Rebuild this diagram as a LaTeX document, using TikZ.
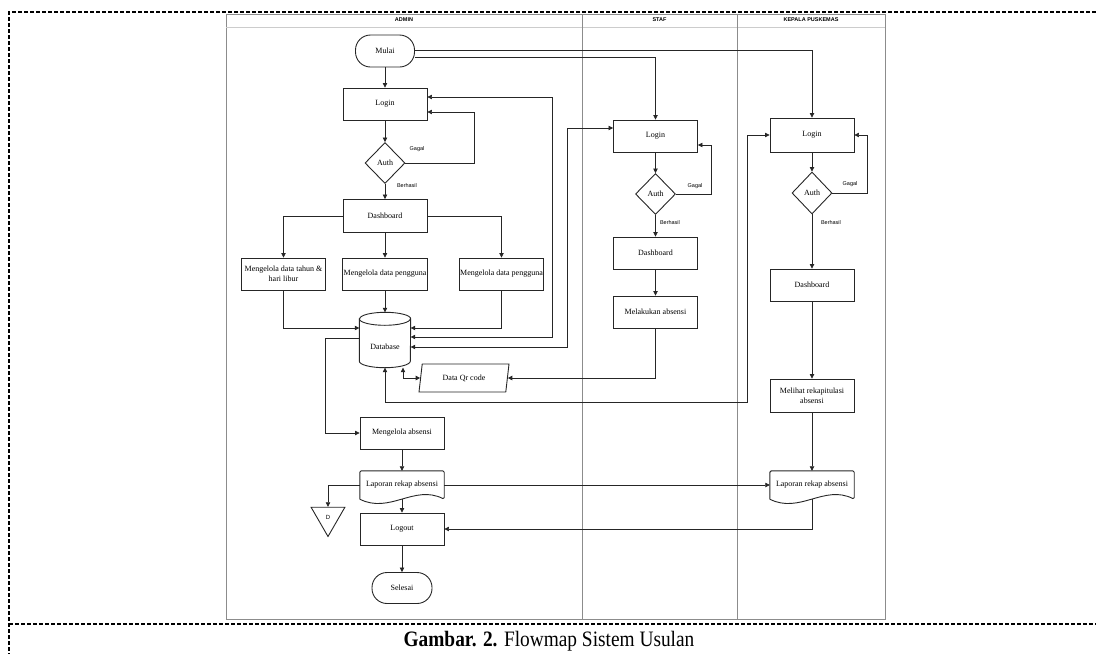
\documentclass[tikz,border=0pt]{standalone}
\usepackage{fontspec}
\setmainfont{Liberation Serif}
\setsansfont{Liberation Sans}
\usetikzlibrary{arrows.meta,shapes.geometric}

% document symbol with a wavy bottom, drawn round a named node
\newcommand{\docwave}[1]{%
  \draw[box, rounded corners=1.5pt] (#1.south west) -- (#1.north west) -- (#1.north east) -- (#1.south east)
    .. controls +(-30,-15) and +(30,15) .. (#1.south west);}
% database cylinder, drawn round a named node
\newcommand{\dbdrum}[1]{%
  \draw[box] ([yshift=-6.5pt]#1.north west) -- ([yshift=6.5pt]#1.south west)
    arc[start angle=180, end angle=360, x radius=25.5pt, y radius=6.5pt]
    -- ([yshift=-6.5pt]#1.north east)
    arc[start angle=0, end angle=180, x radius=25.5pt, y radius=6.5pt] -- cycle;
  \draw[box] ([yshift=-6.5pt]#1.north west) arc[start angle=180, end angle=360, x radius=25.5pt, y radius=6.5pt];}

\begin{document}
\begin{tikzpicture}[x=1pt, y=-1pt]
    \tikzset{
      box/.style = {draw=black!85, line width=0.9pt},
      txt/.style = {font=\fontsize{8}{10}\selectfont},
      proc/.style = {box, txt, rectangle, minimum width=84pt, minimum height=32pt, inner sep=1pt, align=center},
      term/.style = {proc, rounded corners=15pt, minimum width=59pt},
      decide/.style = {box, txt, diamond, minimum width=40pt, minimum height=41pt, inner sep=0pt},
      docbox/.style = {txt, rectangle, minimum width=84pt, minimum height=28pt, inner sep=1pt},
      dbbox/.style = {txt, rectangle, minimum width=51pt, minimum height=55pt, inner sep=0pt},
      io/.style = {box, txt, trapezium, trapezium left angle=70, trapezium right angle=110,
                   trapezium stretches body, minimum width=90pt, minimum height=28pt, inner sep=1pt},
      offpage/.style = {box, regular polygon, regular polygon sides=3, regular polygon rotate=180,
                        minimum size=39pt, inner sep=0pt, font=\sffamily\fontsize{6}{7}\selectfont},
      flow/.style = {draw=black!85, line width=0.7pt, -{Triangle[length=4.5pt,width=4.5pt]}},
      biflow/.style = {flow, {Triangle[length=4.5pt,width=4.5pt]}-{Triangle[length=4.5pt,width=4.5pt]}},
      lbl/.style = {font=\sffamily\fontsize{5.5}{6}\selectfont, inner sep=0pt},
      lanehead/.style = {font=\sffamily\bfseries\fontsize{5.5}{6}\selectfont, inner sep=0pt},
      lane/.style = {draw=black!45, line width=0.7pt},
      frame/.style = {line width=1.4pt, dash pattern=on 4pt off 2pt},
    }
    \useasboundingbox (0,0) rectangle (1096,654);

    % Frame and lanes
    \draw[frame] (1096,12) -- (9,12) -- (9,654);
    \draw[frame] (9,624) -- (1096,624);
    \draw[lane] (226,14) rectangle (885,619);
    \draw[lane, draw=black!20] (226,27) -- (885,27);
    \draw[lane] (582,14) -- (582,619);
    \draw[lane] (737,14) -- (737,619);
    \node[lanehead] (hAdmin) at (404,20) {ADMIN};
    \node[lanehead] (hStaf) at (659.5,20) {STAF};
    \node[lanehead] (hKepala) at (811,20) {KEPALA PUSKEMAS};

    % Nodes: admin
    \node[term] (mulai) at (385,51) {Mulai};
    \node[proc] (aLogin) at (385,104) {Login};
    \node[decide] (aAuth) at (385,163) {Auth};
    \node[proc, minimum height=33pt] (aDash) at (385,216) {Dashboard};
    \node[proc] (aM1) at (283.5,274) {Mengelola data tahun \&\\hari libur};
    \node[proc] (aM2) at (385,274) {Mengelola data pengguna};
    \node[proc] (aM3) at (501.5,274) {Mengelola data pengguna};
    \node[dbbox] (db) at (385,340) {\raisebox{-9pt}[0pt][0pt]{Database}};
    \dbdrum{db}
    \node[io] (qr) at (464,378) {Data Qr code};
    \node[proc] (aAbs) at (402,433) {Mengelola absensi};
    \node[docbox] (aLap) at (402,485) {Laporan rekap absensi};
    \docwave{aLap}
    \node[offpage] (dOff) at (328,517) {D};
    \node[proc] (aLogout) at (402,529) {Logout};
    \node[term, minimum width=60pt, minimum height=31pt] (selesai) at (402,588) {Selesai};

    % Nodes: staf
    \node[proc] (sLogin) at (655.5,136) {Login};
    \node[decide] (sAuth) at (655.5,194) {Auth};
    \node[proc] (sDash) at (655.5,253) {Dashboard};
    \node[proc] (sAbs) at (655.5,312) {Melakukan absensi};

    % Nodes: kepala puskemas
    \node[proc, minimum height=34pt] (kLogin) at (812,135) {Login};
    \node[decide, minimum height=42pt] (kAuth) at (812,193) {Auth};
    \node[proc] (kDash) at (812,285) {Dashboard};
    \node[proc, minimum height=33pt] (kLihat) at (812,395.5) {Melihat rekapitulasi\\absensi};
    \node[docbox] (kLap) at (812,485) {Laporan rekap absensi};
    \docwave{kLap}

    % Labels
    \node[lbl] (gA) at (417,149) {Gagal};
    \node[lbl] (bA) at (407,186) {Berhasil};
    \node[lbl] (gS) at (695,186) {Gagal};
    \node[lbl] (bS) at (670,223) {Berhasil};
    \node[lbl] (gK) at (850,184) {Gagal};
    \node[lbl] (bK) at (831,223) {Berhasil};

    % Edges
    \foreach \a/\b in {mulai/aLogin, aLogin/aAuth, aAuth/aDash, aDash/aM2, aM2/db,
                       aAbs/aLap, aLap/aLogout, aLogout/selesai,
                       sLogin/sAuth, sAuth/sDash, sDash/sAbs,
                       kLogin/kAuth, kAuth/kDash, kDash/kLihat, kLihat/kLap}
      \draw[flow] (\a.south) -- (\b.north);

    % (start, b)
    \draw[flow] ([yshift=1pt]mulai.east) -| (kLogin.north);
    \draw[flow] ([yshift=-6pt]mulai.east) -| (sLogin.north);

    % (auth, gagal)
    \draw[flow] (aAuth.east) -- ++(69,0) |- ([yshift=-8pt]aLogin.east);
    \draw[flow] (sAuth.east) -- ++(35,0) |- ([yshift=-9pt]sLogin.east);
    \draw[flow] (kAuth.east) -- ++(35,0) |- (kLogin.east);

    % (dashboard, b)
    \draw[flow] (aDash.west) -| (aM1.north);
    \draw[flow] (aDash.east) -| (aM3.north);
    \draw[flow] (aM1.south) |- ([yshift=12pt]db.west);
    \draw[flow] (aM3.south) |- ([yshift=12pt]db.east);

    % (database, b)
    \draw[biflow] ([yshift=3pt]db.east) -- ++(142,0) |- ([yshift=7pt]aLogin.east);
    \draw[biflow] ([yshift=-7pt]db.east) -- ++(157,0) |- ([yshift=8pt]sLogin.west);
    \draw[biflow] (db.south) -- ++(0,34.5) -- ++(362,0) |- (kLogin.west);
    \draw[biflow] ([xshift=18pt]db.south) |- (qr.west);
    \draw[flow] (sAbs.south) |- (qr.east);
    \draw[flow] ([yshift=2pt]db.west) -- ++(-34,0) |- (aAbs.west);

    % (laporan, b)
    \draw[flow] (aLap.west) -| (dOff.north);
    \draw[flow] (aLap.east) -- (kLap.west);
    \draw[flow] (kLap.south) |- (aLogout.east);

    % Caption
    \node[font=\fontsize{22}{24}\selectfont, inner sep=0pt, xscale=0.88] (caption) at (549,641)
      {\textbf{Gambar. 2.} Flowmap Sistem Usulan};
\end{tikzpicture}
\end{document}
